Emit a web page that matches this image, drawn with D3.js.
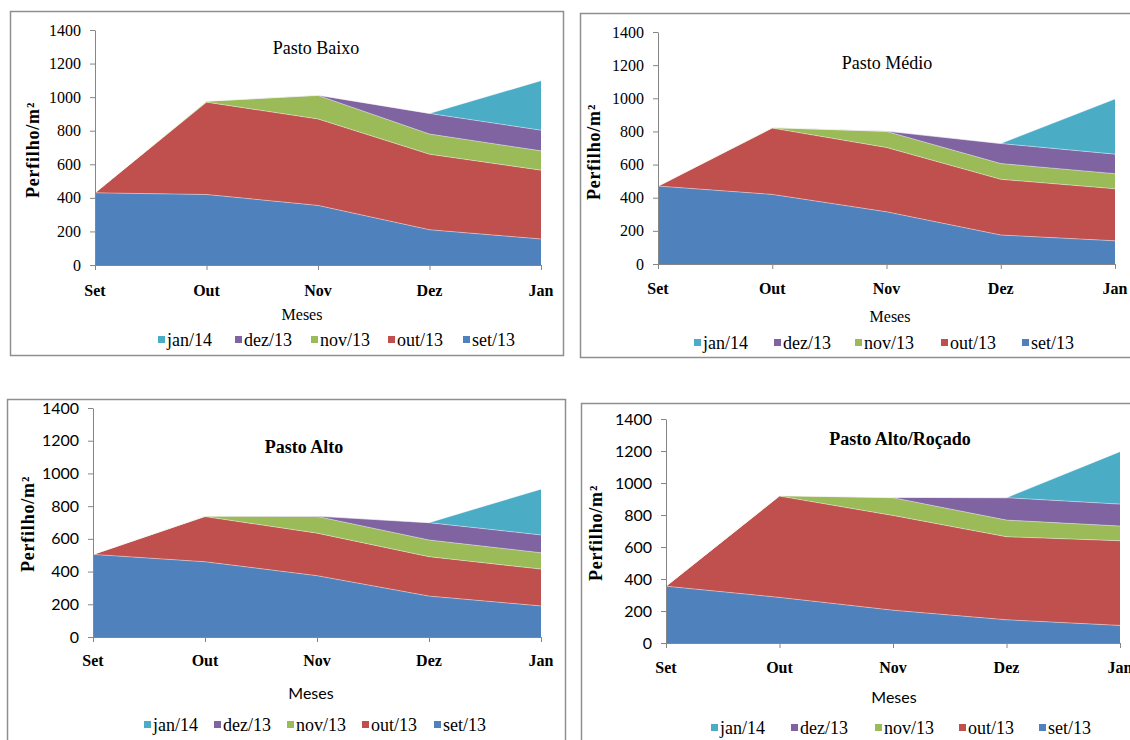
<!DOCTYPE html>
<html><head><meta charset="utf-8">
<script src="https://cdn.jsdelivr.net/npm/d3@7"></script>
<style>body{margin:0;background:#fff;overflow:hidden}</style>
</head><body>
<svg id="c" width="1130" height="740"></svg>
<script>
const months = ["Set","Out","Nov","Dez","Jan"];
const cohorts = ["set/13","out/13","nov/13","dez/13","jan/14"];
const legendOrder = ["jan/14","dez/13","nov/13","out/13","set/13"];
const colors = ["#4F81BD","#C0504D","#9BBB59","#8064A2","#4BACC6"];
const yTicks = [0,200,400,600,800,1000,1200,1400];
const titles = ["Pasto Baixo","Pasto Médio","Pasto Alto","Pasto Alto/Roçado"];

// Pasto Baixo
const baixoSet = [430,420,355,210,155];
const baixoOut = [0,550,515,450,410];
const baixoNov = [0,6,140,120,115];
const baixoDez = [0,0,2,123,123];
const baixoJan = [0,0,0,0,295];
// Pasto Médio
const medioSet = [470,420,315,175,140];
const medioOut = [0,400,388,336,314];
const medioNov = [0,3,97,95,91];
const medioDez = [0,0,2,121,118];
const medioJan = [0,0,0,0,333];
// Pasto Alto
const altoSet = [505,460,375,250,190];
const altoOut = [0,276,260,241,225];
const altoNov = [0,3,102,102,100];
const altoDez = [0,0,2,106,109];
const altoJan = [0,0,0,0,280];
// Pasto Alto/Roçado
const rocSet = [355,285,205,145,110];
const rocOut = [0,633,592,519,529];
const rocNov = [0,3,111,104,92];
const rocDez = [0,0,2,140,137];
const rocJan = [0,0,0,0,328];

const panelData = [
  [baixoSet,baixoOut,baixoNov,baixoDez,baixoJan],
  [medioSet,medioOut,medioNov,medioDez,medioJan],
  [altoSet,altoOut,altoNov,altoDez,altoJan],
  [rocSet,rocOut,rocNov,rocDez,rocJan]
];

const SERIF = "'Liberation Serif','Times New Roman',serif";
const SANS = "Lato,'Liberation Sans',sans-serif";

const layouts = [
  {frame:[10,11,563,355], x0:95, x1:541, yB:265, yT:30, tX:316, tY:48, tBold:false,
   ylX:33, ylY:150, tickFont:SERIF, mFont:SERIF, mX:302, mY:314, xlY:290, legY:340,
   legX:[158,235,311,388,463]},
  {frame:[580,13,1136,357], x0:658, x1:1115, yB:264, yT:32, tX:887, tY:63, tBold:false,
   ylX:594, ylY:152, tickFont:SERIF, mFont:SERIF, mX:890, mY:316, xlY:288, legY:343,
   legX:[694,774,855,941,1022]},
  {frame:[7,399,565,746], x0:93, x1:541, yB:637, yT:408, tX:304, tY:447, tBold:true,
   ylX:28, ylY:524, tickFont:SANS, mFont:SANS, mX:311, mY:692, xlY:660, legY:725,
   legX:[144,214,287,362,434]},
  {frame:[581,403,1136,746], x0:666, x1:1120, yB:643, yT:419, tX:900, tY:439, tBold:true,
   ylX:596, ylY:533, tickFont:SANS, mFont:SANS, mX:894, mY:696, xlY:667, legY:728,
   legX:[711,791,875,959,1039]}
];

const svg = d3.select("#c");
const axisColor = "#868686";

layouts.forEach((L, pi) => {
  const g = svg.append("g");
  const [fx0,fy0,fx1,fy1] = L.frame;
  g.append("rect").attr("x",fx0+0.5).attr("y",fy0+0.5).attr("width",fx1-fx0).attr("height",fy1-fy0)
    .attr("fill","#fff").attr("stroke","#8f8f8f").attr("stroke-width",1.5);

  const x = d3.scalePoint().domain(months).range([L.x0, L.x1]);
  const y = d3.scaleLinear().domain([0,1400]).range([L.yB, L.yT]);

  const series = panelData[pi];
  const table = months.map((m,i) => {
    const row = {month:m};
    cohorts.forEach((c,k) => row[c] = series[k][i]);
    return row;
  });
  const stacked = d3.stack().keys(cohorts)(table);

  const area = d3.area().x(d => x(d.data.month)).y0(d => y(d[0])).y1(d => y(d[1]));
  const line = d3.line().x(d => x(d.data.month)).y(d => y(d[1]));

  g.selectAll("path.area").data(stacked).enter().append("path")
    .attr("d", area).attr("fill", (d,i) => colors[i]);
  g.selectAll("path.edge").data(stacked).enter().append("path")
    .attr("d", line).attr("fill","none").attr("stroke","#fff").attr("stroke-opacity",0.4).attr("stroke-width",1);

  // y axis
  const ya = g.append("g").attr("transform",`translate(${L.x0},0)`)
    .call(d3.axisLeft(y).tickValues(yTicks).tickFormat(d3.format("d")).tickSize(5).tickSizeOuter(0).tickPadding(9));
  ya.attr("font-family", null);
  ya.select(".domain").attr("stroke",axisColor);
  ya.selectAll(".tick line").attr("stroke",axisColor);
  ya.selectAll(".tick text").attr("fill","#000").style("font-family",L.tickFont).style("font-size","16px");

  // x axis
  const xa = g.append("g").attr("transform",`translate(0,${L.yB})`)
    .call(d3.axisBottom(x).tickSize(5).tickSizeOuter(0).tickFormat(() => ""));
  xa.select(".domain").attr("stroke",axisColor);
  xa.selectAll(".tick line").attr("stroke",axisColor);
  g.selectAll("text.xl").data(months).enter().append("text")
    .attr("x", d => x(d)).attr("y", L.xlY).attr("text-anchor","middle").attr("dominant-baseline","central")
    .style("font-family",SERIF).style("font-size","16px").style("font-weight","bold").text(d => d);

  // title
  g.append("text").attr("x",L.tX).attr("y",L.tY).attr("text-anchor","middle").attr("dominant-baseline","central")
    .style("font-family",SERIF).style("font-size","18px").style("font-weight",L.tBold?"bold":"normal")
    .text(titles[pi]);

  // y label
  g.append("text").attr("transform",`translate(${L.ylX},${L.ylY}) rotate(-90)`)
    .attr("text-anchor","middle").attr("dominant-baseline","central")
    .style("font-family",SERIF).style("font-size","18px").style("font-weight","bold").style("letter-spacing","0.8px")
    .text("Perfilho/m²");

  // x label
  g.append("text").attr("x",L.mX).attr("y",L.mY).attr("text-anchor","middle").attr("dominant-baseline","central")
    .style("font-family",L.mFont).style("font-size","16px").text("Meses");

  // legend
  legendOrder.forEach((name,i) => {
    const k = cohorts.indexOf(name);
    g.append("rect").attr("x",L.legX[i]).attr("y",L.legY-4).attr("width",7).attr("height",7).attr("fill",colors[k]);
    g.append("text").attr("x",L.legX[i]+9).attr("y",L.legY).attr("dominant-baseline","central")
      .style("font-family",SERIF).style("font-size","18px").text(name);
  });
});
</script>
</body></html>
